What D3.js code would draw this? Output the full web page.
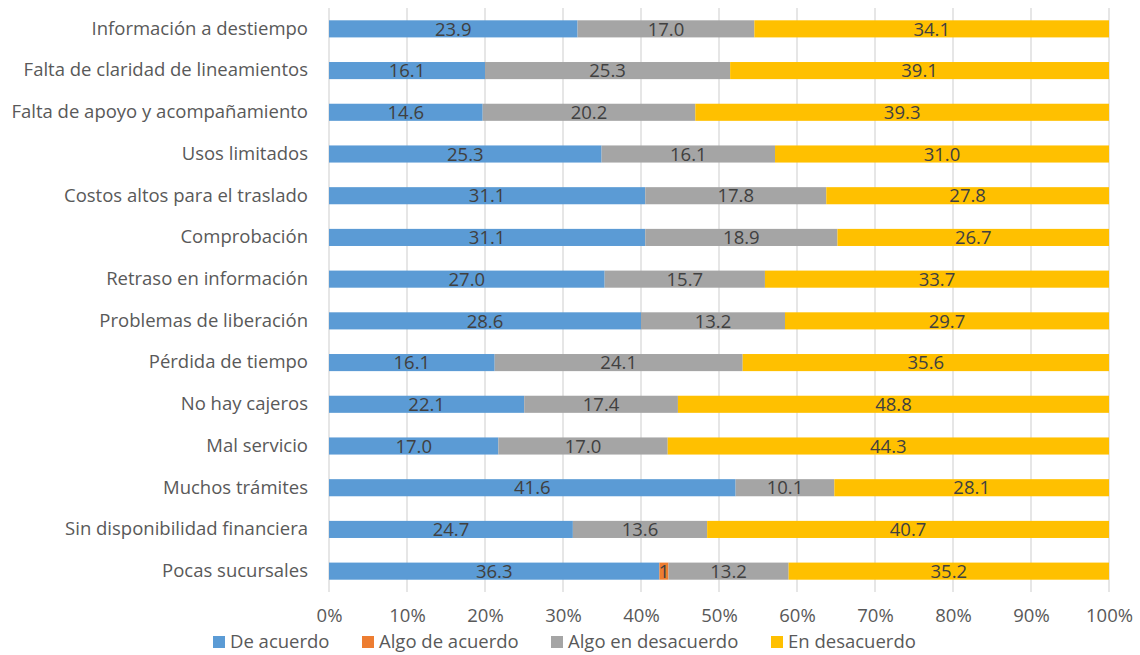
<!DOCTYPE html>
<html><head><meta charset="utf-8">
<script src="https://cdn.jsdelivr.net/npm/d3@7"></script>
<style>body{margin:0;background:#fff;}svg{display:block;font-family:"Open Sans",sans-serif;}</style>
</head><body><svg id="c" width="1140" height="655"></svg>
<script>
const categories = ["Información a destiempo","Falta de claridad de lineamientos","Falta de apoyo y acompañamiento","Usos limitados","Costos altos para el traslado","Comprobación","Retraso en información","Problemas de liberación","Pérdida de tiempo","No hay cajeros","Mal servicio","Muchos trámites","Sin disponibilidad financiera","Pocas sucursales"];
const seriesNames = ["De acuerdo","Algo de acuerdo","Algo en desacuerdo","En desacuerdo"];
const deAcuerdo = [23.9,16.1,14.6,25.3,31.1,31.1,27.0,28.6,16.1,22.1,17.0,41.6,24.7,36.3];
const algoDeAcuerdo = [0,0,0,0,0,0,0,0,0,0,0,0,0,1];
const algoEnDesacuerdo = [17.0,25.3,20.2,16.1,17.8,18.9,15.7,13.2,24.1,17.4,17.0,10.1,13.6,13.2];
const enDesacuerdo = [34.1,39.1,39.3,31.0,27.8,26.7,33.7,29.7,35.6,48.8,44.3,28.1,40.7,35.2];
const tickValues = [0,0.1,0.2,0.3,0.4,0.5,0.6,0.7,0.8,0.9,1];
const colors = ["#5B9BD5","#ED7D31","#A5A5A5","#FFC000"];
const FS = 18.5;

const svg = d3.select("#c");
const x = d3.scaleLinear().domain([0,1]).range([329,1109]);
const y = d3.scaleBand().domain(categories).range([8,592]).paddingInner(0.59).paddingOuter(0.295);

const rows = categories.map((c,i)=>({cat:c, vals:[deAcuerdo[i],algoDeAcuerdo[i],algoEnDesacuerdo[i],enDesacuerdo[i]]}));
const table = rows.map(r=>{const t=d3.sum(r.vals); const o={cat:r.cat}; seriesNames.forEach((s,k)=>o[s]=r.vals[k]/t); o.raw=r.vals; return o;});
const stack = d3.stack().keys(seriesNames)(table);

// gridlines
svg.append("g").selectAll("line").data(tickValues).join("line")
  .attr("x1",d=>x(d)).attr("x2",d=>x(d)).attr("y1",8).attr("y2",592)
  .attr("stroke","#D9D9D9").attr("stroke-width",1.3);

// bars
stack.forEach((layer,k)=>{
  const g = svg.append("g");
  g.selectAll("rect").data(layer).join("rect")
    .attr("x",d=>x(d[0])).attr("width",d=>x(d[1])-x(d[0]))
    .attr("y",d=>y(d.data.cat)).attr("height",y.bandwidth())
    .attr("fill",colors[k]);
  g.selectAll("text").data(layer.filter(d=>d.data.raw[k]>0)).join("text")
    .attr("x",d=>(x(d[0])+x(d[1]))/2).attr("y",d=>y(d.data.cat)+y.bandwidth()/2)
    .attr("dy","0.36em").attr("text-anchor","middle")
    .attr("font-size",FS).attr("fill","#404040")
    .text(d=>{const v=d.data.raw[k]; return Number.isInteger(v)&&k===1? v : v.toFixed(1);});
});

// y axis labels
const ya = svg.append("g").attr("transform","translate(329,0)").call(d3.axisLeft(y).tickSize(0).tickPadding(21));
ya.select(".domain").remove();
ya.selectAll("text").attr("font-size",FS).attr("fill","#595959").attr("font-family","'Open Sans',sans-serif");

// x axis
const xa = svg.append("g").attr("transform","translate(0,592)").call(d3.axisBottom(x).tickValues(tickValues).tickFormat(d3.format(".0%")).tickSize(0).tickPadding(17));
xa.select(".domain").remove();
xa.selectAll("text").attr("font-size",FS).attr("fill","#595959").attr("font-family","'Open Sans',sans-serif");

// legend
const legX = [213,362,551,771];
const lg = svg.append("g").selectAll("g").data(seriesNames).join("g")
  .attr("transform",(d,i)=>`translate(${legX[i]},642)`);
lg.append("rect").attr("x",0).attr("y",-6).attr("width",12).attr("height",12).attr("fill",(d,i)=>colors[i]);
lg.append("text").attr("x",17).attr("y",0).attr("dy","0.34em").attr("font-size",FS).attr("fill","#595959").text(d=>d);
</script></body></html>
